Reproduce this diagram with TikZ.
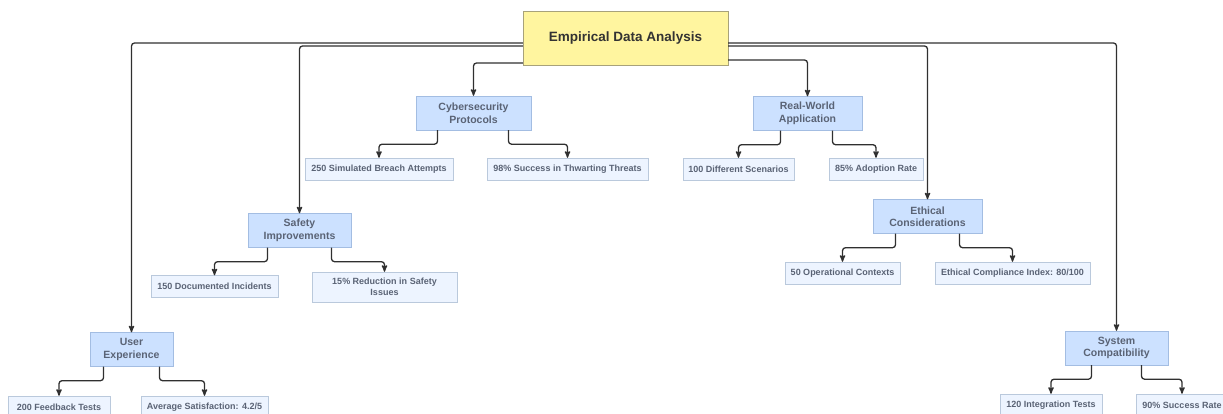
\documentclass[tikz,border=0pt]{standalone}
\usepackage{fontspec}
\setmainfont{Liberation Sans}
\usetikzlibrary{arrows}
\definecolor{rootfill}{HTML}{FFF59F}
\definecolor{rootline}{HTML}{A8A27A}
\definecolor{topicfill}{HTML}{CCE1FF}
\definecolor{topicline}{HTML}{A3BDE2}
\definecolor{factfill}{HTML}{EDF4FF}
\definecolor{factline}{HTML}{BAC9DC}
\definecolor{labeltext}{HTML}{5A6375}
\definecolor{wire}{HTML}{303030}
\tikzset{x=1pt, y=-1pt, % one unit is one pixel of the layout, y grows downwards
        root/.style={ % Top box
            draw=rootline, fill=rootfill, text=black!80,
            font=\fontsize{13.5}{16}\selectfont\bfseries,
            minimum width=205pt, minimum height=54pt},
        topic/.style={ % Second level boxes
            draw=topicline, fill=topicfill, text=labeltext, align=center,
            font=\fontsize{10.5}{12.5}\selectfont\bfseries,
            minimum height=34pt, inner sep=2pt},
        fact/.style={ % Leaf boxes
            draw=factline, fill=factfill, text=labeltext, align=center,
            font=\fontsize{9}{11}\selectfont\bfseries,
            minimum height=22pt, inner sep=2pt},
        link/.style={ % Connectors
            draw=wire, line width=1.3pt,
            ->, >=stealth',
            rounded corners=3pt}
        }
\begin{document}
\begin{tikzpicture}
    \useasboundingbox (0,0) rectangle (1223,414);

    \node[root] (root) at (625.5,38) {Empirical Data Analysis};

    \node[topic, minimum width=115pt] (cyber)     at (473.5,113)  {Cybersecurity\\Protocols};
    \node[topic, minimum width=109pt] (realworld) at (807.5,113.5) {Real-World\\Application};
    \node[topic, minimum width=103pt] (safety)    at (299.5,230.5) {Safety\\Improvements};
    \node[topic, minimum width=109pt] (ethical)   at (927.5,216.5) {Ethical\\Considerations};
    \node[topic, minimum width=83pt]  (ux)        at (131.5,349.5) {User\\Experience};
    \node[topic, minimum width=103pt] (syscompat) at (1116.5,348)  {System\\Compatibility};

    \node[fact, minimum width=148pt] (breach)       at (379,169)    {250 Simulated Breach Attempts};
    \node[fact, minimum width=161pt] (thwart)       at (567.5,169)  {98\% Success in Thwarting Threats};
    \node[fact, minimum width=111pt] (scenarios)    at (738.5,169)  {100 Different Scenarios};
    \node[fact, minimum width=94pt]  (adoption)     at (876,169)    {85\% Adoption Rate};
    \node[fact, minimum width=127pt] (incidents)    at (214.5,286.5) {150 Documented Incidents};
    \node[fact, minimum width=145pt, minimum height=30pt] (reduction) at (384.5,287) {15\% Reduction in Safety\\Issues};
    \node[fact, minimum width=115pt] (contexts)     at (842.5,273)  {50 Operational Contexts};
    \node[fact, minimum width=155pt] (compliance)   at (1012.5,273) {Ethical Compliance Index: 80/100};
    \node[fact, minimum width=102pt] (feedback)     at (59,407)     {200 Feedback Tests};
    \node[fact, minimum width=127pt] (satisfaction) at (204.5,407)  {Average Satisfaction: 4.2/5};
    \node[fact, minimum width=102pt] (integration)  at (1051,405)   {120 Integration Tests};
    \node[fact, minimum width=92pt]  (successrate)  at (1182,405)   {90\% Success Rate};

    % root to topics
    \draw[link] ([yshift=-5pt]root.west)  -| (ux);
    \draw[link] ([yshift=-8pt]root.west)  -| (safety);
    \draw[link] ([yshift=-25pt]root.west) -| (cyber);
    \draw[link] ([yshift=-22pt]root.east) -| (realworld);
    \draw[link] ([yshift=-8pt]root.east)  -| (ethical);
    \draw[link] ([yshift=-5pt]root.east)  -| (syscompat);

    % topics to facts
    \draw[link] ([xshift=-36pt]cyber.south)     -- ++(0,14) -| (breach);
    \draw[link] ([xshift=35pt]cyber.south)      -- ++(0,14) -| (thwart);
    \draw[link] ([xshift=-27pt]realworld.south) -- ++(0,14) -| (scenarios);
    \draw[link] ([xshift=25pt]realworld.south)  -- ++(0,14) -| (adoption);
    \draw[link] ([xshift=-32pt]safety.south)    -- ++(0,14) -| (incidents);
    \draw[link] ([xshift=32pt]safety.south)     -- ++(0,14) -| (reduction);
    \draw[link] ([xshift=-32pt]ethical.south)   -- ++(0,14) -| (contexts);
    \draw[link] ([xshift=32pt]ethical.south)    -- ++(0,14) -| (compliance);
    \draw[link] ([xshift=-28pt]ux.south)        -- ++(0,14) -| (feedback);
    \draw[link] ([xshift=28pt]ux.south)         -- ++(0,14) -| (satisfaction);
    \draw[link] ([xshift=-25pt]syscompat.south) -- ++(0,14) -| (integration);
    \draw[link] ([xshift=25pt]syscompat.south)  -- ++(0,14) -| (successrate);
\end{tikzpicture}
\end{document}
